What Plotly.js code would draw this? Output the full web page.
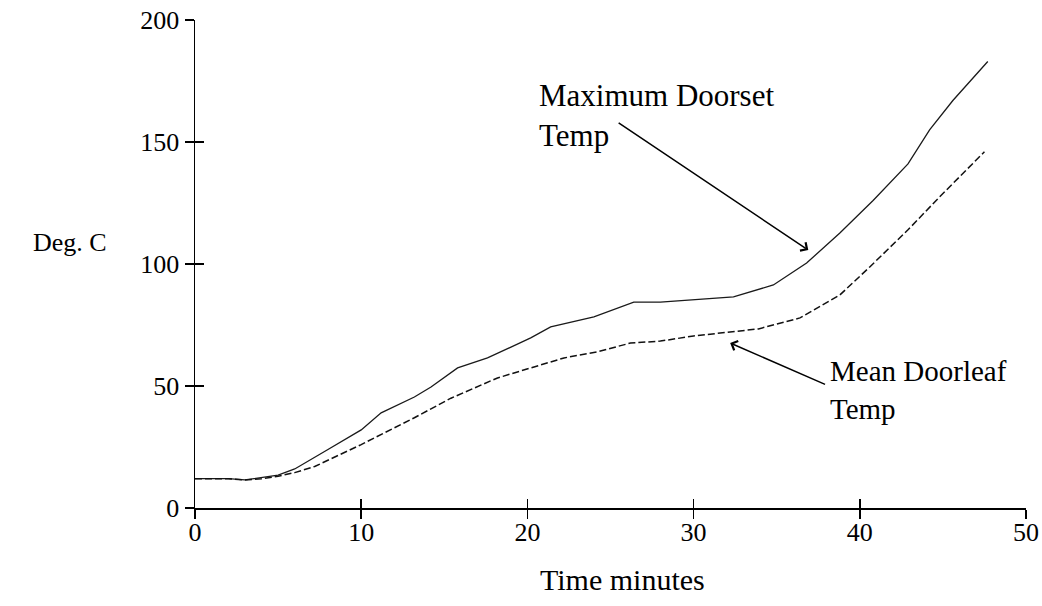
<!DOCTYPE html>
<html>
<head>
<meta charset="utf-8">
<script src="https://cdn.plot.ly/plotly-3.0.1.min.js"></script>
<style>
  html, body { margin: 0; padding: 0; background: #ffffff; }
  #chart { width: 1042px; height: 606px; }
</style>
</head>
<body>
<div id="chart"></div>
<script>
// Data
var timeMax = [0, 2, 3, 4, 5, 6, 7.2, 8, 10, 11.2, 13.2, 14.2, 15.8, 17.6, 20.2, 21.4, 24, 26.4, 28, 30, 32.4, 34.8, 36.8, 38.8, 40.8, 42.9, 44.2, 45.6, 47.7];
var maxDoorsetTemp = [12, 12, 11.5, 12.5, 13.5, 16, 21, 24, 32, 39, 45.5, 49.6, 57.4, 61.5, 69.7, 74.2, 78.3, 84.4, 84.4, 85.3, 86.5, 91.4, 100.4, 112.7, 126, 141, 155, 167, 183];

var timeMean = [0, 2, 3, 4, 5, 6, 7.2, 8, 10, 13.2, 15.4, 18.2, 20.2, 22.2, 24.2, 26.2, 28, 30, 33.9, 36.4, 38.8, 40.6, 42.9, 44.8, 47.5];
var meanDoorleafTemp = [12, 12, 11.5, 12, 13, 14.5, 17, 19.5, 26, 37, 45, 53.3, 57.4, 61.5, 64, 67.6, 68.4, 70.5, 73.4, 77.9, 87.3, 98.8, 114, 127.5, 146];

var xTicks = [0, 10, 20, 30, 40, 50];
var yTicks = [0, 50, 100, 150, 200];

var labelMax = "Maximum Doorset<br>Temp";
var labelMean = "Mean Doorleaf<br>Temp";
var yLabel = "Deg. C";
var xLabel = "Time minutes";

var serif = "Liberation Serif, Times New Roman, serif";

var traces = [
  {
    x: timeMax, y: maxDoorsetTemp, type: "scatter", mode: "lines",
    line: { color: "#1a1a1a", width: 1.3 },
    name: "Maximum Doorset Temp", showlegend: false, hoverinfo: "skip"
  },
  {
    x: timeMean, y: meanDoorleafTemp, type: "scatter", mode: "lines",
    line: { color: "#111111", width: 1.5, dash: "7px,3px" },
    name: "Mean Doorleaf Temp", showlegend: false, hoverinfo: "skip"
  },
  {
    x: [null], y: [null], xaxis: "x2", yaxis: "y2", type: "scatter", mode: "lines",
    showlegend: false, hoverinfo: "skip"
  }
];

var axisCommon = {
  showgrid: false, zeroline: false, showline: true,
  linecolor: "#000", linewidth: 1.5,
  tickcolor: "#000", tickwidth: 1.5, ticklen: 9,
  tickfont: { family: serif, size: 26, color: "#000" }
};

var layout = {
  width: 1042, height: 606,
  margin: { l: 195, r: 16, t: 20, b: 98 },
  paper_bgcolor: "#ffffff", plot_bgcolor: "#ffffff",
  showlegend: false,
  xaxis: Object.assign({}, axisCommon, {
    range: [0, 50], tickvals: xTicks, ticktext: xTicks.map(String), ticks: "inside"
  }),
  yaxis: Object.assign({}, axisCommon, {
    range: [0, 200], tickvals: yTicks, ticktext: yTicks.map(String), ticks: "outside"
  }),
  xaxis2: Object.assign({}, axisCommon, {
    range: [0, 50], tickvals: xTicks, ticks: "outside", showticklabels: false,
    overlaying: "x", anchor: "y2"
  }),
  yaxis2: Object.assign({}, axisCommon, {
    range: [0, 200], tickvals: yTicks, ticks: "inside", showticklabels: false,
    overlaying: "y", anchor: "x2"
  }),
  annotations: [
    {
      xref: "x", yref: "y", x: 20.6, y: 161, text: labelMax, showarrow: false,
      xanchor: "left", yanchor: "middle", align: "left",
      font: { family: serif, size: 31, color: "#000" }
    },
    {
      xref: "x", yref: "y", x: 38.1, y: 48.4, text: labelMean, showarrow: false,
      xanchor: "left", yanchor: "middle", align: "left",
      font: { family: serif, size: 29, color: "#000" }
    },
    {
      xref: "x", yref: "y", x: 36.9, y: 105.7, axref: "x", ayref: "y", ax: 25.4, ay: 158.2,
      text: "", showarrow: true, arrowhead: 4, arrowsize: 1.3, arrowwidth: 1.5, arrowcolor: "#000",
      font: { size: 1 }
    },
    {
      xref: "x", yref: "y", x: 32.2, y: 67.6, axref: "x", ayref: "y", ax: 38.0, ay: 50.4,
      text: "", showarrow: true, arrowhead: 4, arrowsize: 1.3, arrowwidth: 1.5, arrowcolor: "#000",
      font: { size: 1 }
    },
    {
      xref: "paper", yref: "paper", x: -0.150, y: 0.545, text: yLabel, showarrow: false,
      xanchor: "center", yanchor: "middle",
      font: { family: serif, size: 26, color: "#000" }
    },
    {
      xref: "paper", yref: "paper", x: 0.515, y: -0.1475, text: xLabel, showarrow: false,
      xanchor: "center", yanchor: "middle",
      font: { family: serif, size: 30, color: "#000" }
    }
  ]
};

Plotly.newPlot("chart", traces, layout, { staticPlot: true, displayModeBar: false });
</script>
</body>
</html>
